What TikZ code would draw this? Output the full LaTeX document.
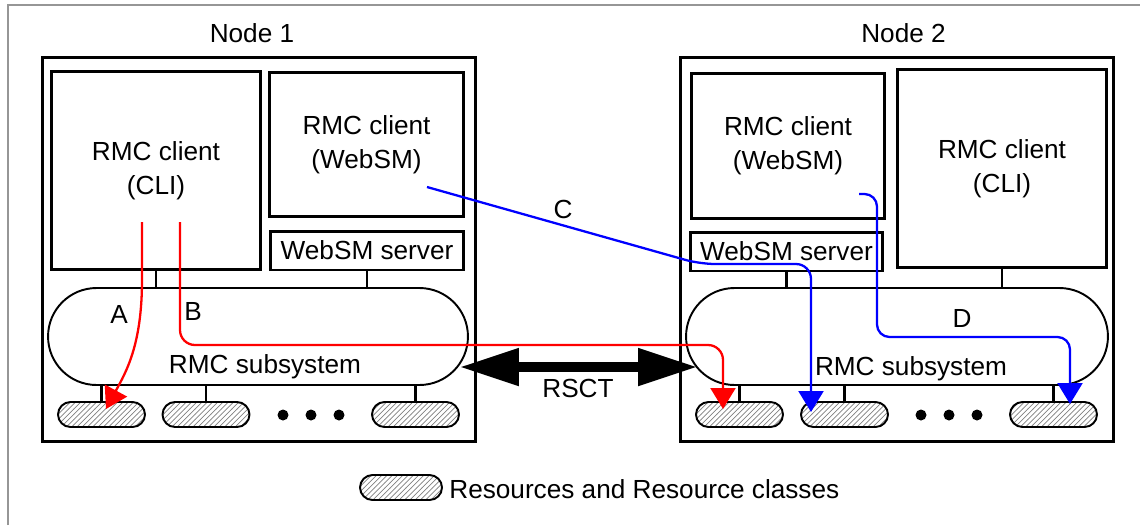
\documentclass[tikz,border=0pt]{standalone}
\usepackage{fontspec}
\setmainfont{Liberation Sans}
\usetikzlibrary{arrows.meta}
\usetikzlibrary{patterns}
\usetikzlibrary{shapes.misc}
\definecolor{flowred}{RGB}{255, 0, 0}
\definecolor{flowblue}{RGB}{0, 0, 255}
\definecolor{framegray}{RGB}{150, 150, 150}
\newcommand{\diagfont}{\fontsize{14.9}{19.5}\selectfont}
\tikzset{
  nodebox/.style={draw, line width=1.7pt, inner sep=0pt, minimum width=8.68cm, minimum height=7.7cm},
  compbox/.style={draw, line width=1.7pt, inner sep=0pt, align=center, font=\diagfont},
  subsys/.style={draw, rounded rectangle, line width=1.1pt, inner sep=0pt, minimum width=8.4cm, minimum height=1.94cm},
  resrc/.style={draw, rounded rectangle, line width=1.1pt, inner sep=0pt, pattern=north east lines, pattern color=gray, minimum width=1.74cm, minimum height=0.5cm},
  txt/.style={font=\diagfont, inner sep=0pt, anchor=base},
  tie/.style={line width=1.5pt},
  flowtip/.style={-{Triangle[length=0.42cm, width=0.5cm]}},
  redflow/.style={flowred, line width=1.3pt, flowtip},
  blueflow/.style={flowblue, line width=1.3pt, flowtip},
  rsctarrow/.style={line width=6.2pt, {Triangle[length=1.2cm, width=0.7cm]}-{Triangle[length=1.2cm, width=0.7cm]}}
}

\begin{document}
\begin{tikzpicture}[x=0.02cm, y=-0.02cm]
    \useasboundingbox (0,0) rectangle (1140,525);
    \draw[framegray, line width=1pt] (8,525) -- (8,5) -- (1140,5);

    \node[nodebox] (node1) at (259,249.5) {};
    \node[nodebox] (node2) at (897,249.5) {};
    \node[txt] (node1lbl) at (252,42) {Node 1};
    \node[txt] (node2lbl) at (903.5,42) {Node 2};

    \node[compbox, minimum width=4.2cm, minimum height=3.98cm] (cli1) at (156,170.5) {RMC client\\(CLI)};
    \node[compbox, minimum width=3.9cm, minimum height=2.9cm] (web1) at (366.5,144.5) {RMC client\\(WebSM)};
    \node[compbox, minimum width=3.88cm, minimum height=0.78cm] (srv1) at (367,250.5) {WebSM server};
    \node[subsys] (sub1) at (258,336.5) {};
    \node[txt] (sub1lbl) at (265,373) {RMC subsystem};

    \node[compbox, minimum width=3.88cm, minimum height=2.92cm] (web2) at (788,146) {RMC client\\(WebSM)};
    \node[compbox, minimum width=4.2cm, minimum height=3.98cm] (cli2) at (1002,168.5) {RMC client\\(CLI)};
    \node[compbox, minimum width=3.86cm, minimum height=0.78cm] (srv2) at (786.5,251.5) {WebSM server};
    \node[subsys, minimum width=8.44cm] (sub2) at (897,336.5) {};
    \node[txt] (sub2lbl) at (911,375) {RMC subsystem};

    \draw[tie] (cli1.south) -- (cli1.south |- sub1.north);
    \draw[tie] (srv1.south) -- (srv1.south |- sub1.north);
    \draw[tie] (srv2.south) -- (srv2.south |- sub2.north);
    \draw[tie] (cli2.south) -- (cli2.south |- sub2.north);

    \foreach \x/\n/\s in {101.5/r11/sub1, 206/r12/sub1, 415.5/r13/sub1, 739.5/r21/sub2, 844.5/r22/sub2, 1053.5/r23/sub2} {
        \node[resrc] (\n) at (\x,414.5) {};
        \draw[tie] (\n.north) -- (\n.north |- \s.south);
    }
    \foreach \x in {283,311,339,921,949,977}
        \fill (\x,415) circle (0.11cm);

    \coordinate (rsctL) at (459,367);
    \coordinate (rsctR) at (698,367);
    \draw[rsctarrow] (rsctL) -- (rsctR);
    \node[txt] (rsctlbl) at (578,397) {RSCT};

    \coordinate (aStart) at (142,222);
    \coordinate (aEnd) at (106,409);
    \draw[redflow] (aStart) -- (142,280) .. controls (142,345) and (126,372) .. (aEnd);
    \node[txt] (albl) at (119,323) {A};

    \coordinate (bStart) at (180,222);
    \coordinate (bEnd) at (723,409);
    \draw[redflow, rounded corners=0.3cm] (bStart) |- (723,345) -- (bEnd);
    \node[txt] (blbl) at (193,320) {B};

    \coordinate (cStart) at (427,187);
    \coordinate (cEnd) at (811,412);
    \draw[blueflow, rounded corners=0.3cm] (cStart) -- (700,264) -| (cEnd);
    \node[txt] (clbl) at (563,218) {C};

    \coordinate (dStart) at (859,194);
    \coordinate (dEnd) at (1070,404);
    \draw[blueflow, rounded corners=0.25cm] (dStart) -| (877,337) -| (dEnd);
    \node[txt] (dlbl) at (962,327) {D};

    \node[resrc, minimum width=1.64cm] (legres) at (401,487.5) {};
    \node[txt, anchor=base west] (legtxt) at (449,498) {Resources and Resource classes};
\end{tikzpicture}
\end{document}
